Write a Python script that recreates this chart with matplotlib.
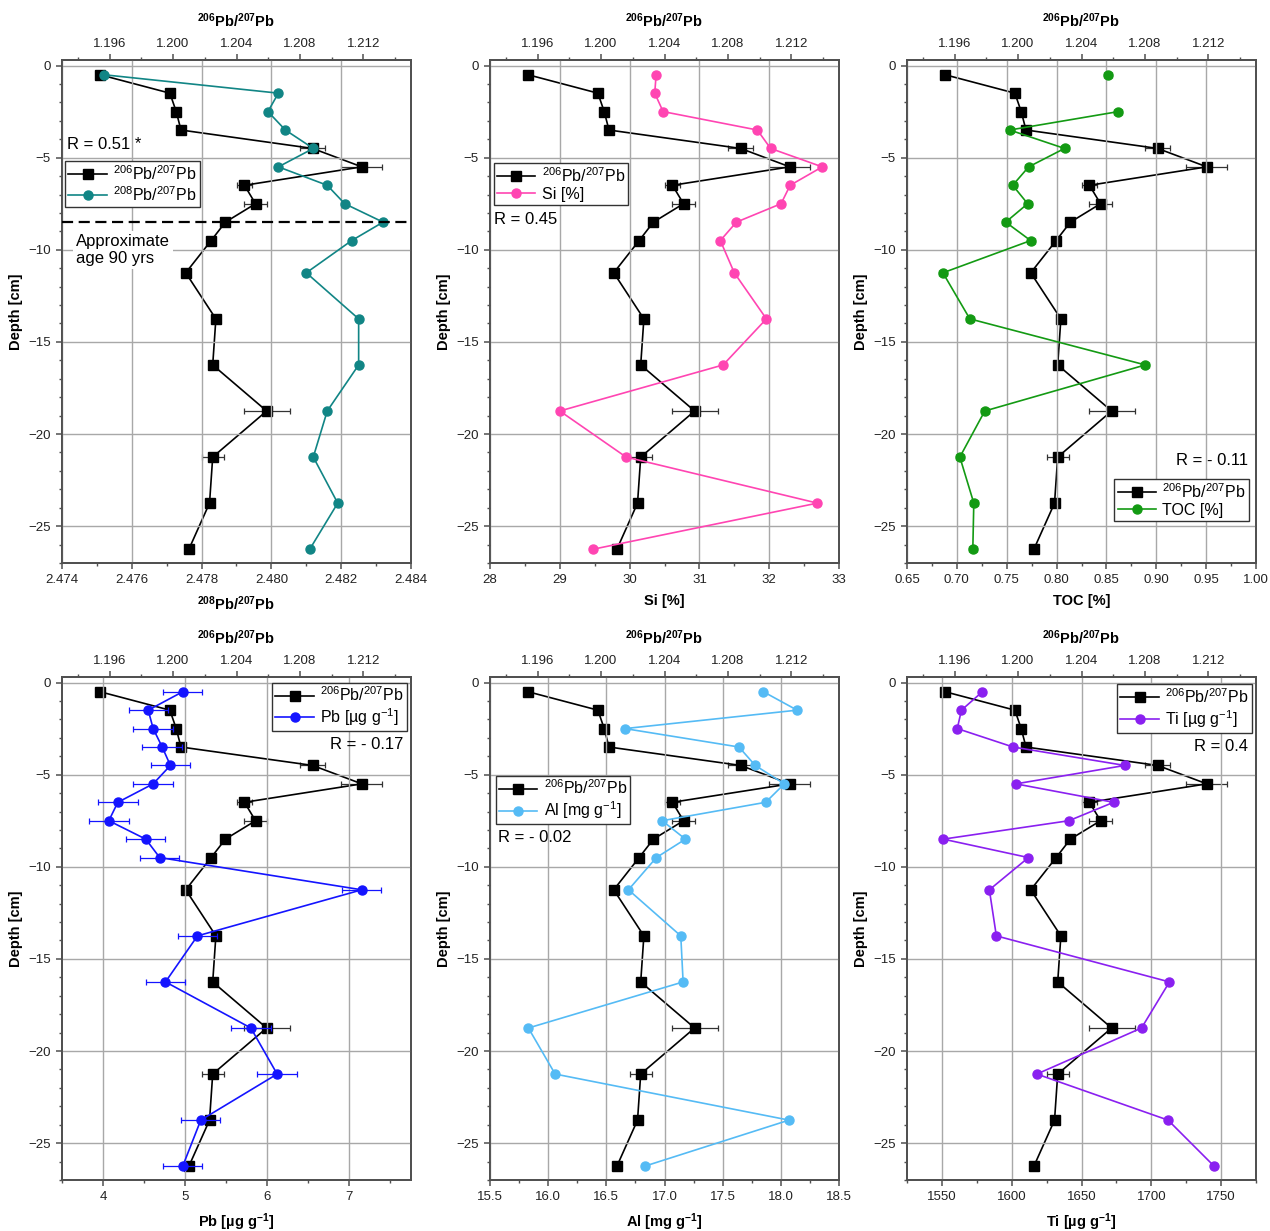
import numpy as np
import matplotlib
matplotlib.use("Agg")
import matplotlib.pyplot as plt
from matplotlib.lines import Line2D
from matplotlib.ticker import MultipleLocator, FormatStrFormatter

plt.rcParams['font.family'] = ['Liberation Sans', 'DejaVu Sans']
plt.rcParams['mathtext.fontset'] = 'custom'
plt.rcParams['mathtext.rm'] = 'Liberation Sans'
plt.rcParams['mathtext.bf'] = 'Liberation Sans:bold'
plt.rcParams['mathtext.default'] = 'regular'

# sample depths (cm, negative downwards)
depth = [-0.5, -1.5, -2.5, -3.5, -4.5, -5.5, -6.5, -7.5, -8.5, -9.5,
         -11.25, -13.75, -16.25, -18.75, -21.25, -23.75, -26.25]

# lead isotope ratios
pb206_207 = [1.1954, 1.1998, 1.2002, 1.2005, 1.2088, 1.2119, 1.2045, 1.2052, 1.2033,
             1.2024, 1.2008, 1.2027, 1.2025, 1.2059, 1.2025, 1.2023, 1.2010]
pb206_207_err = [0.0002, 0.0002, 0.0002, 0.0002, 0.0008, 0.0013, 0.0005, 0.0007, 0.0002,
                 0.0002, 0.0002, 0.0002, 0.0002, 0.00145, 0.0007, 0.0002, 0.0002]
pb208_207 = [2.4752, 2.4802, 2.4799, 2.4804, 2.4812, 2.4802, 2.4816, 2.4821, 2.4832,
             2.4823, 2.4810, 2.4825, 2.4825, 2.4816, 2.4812, 2.4819, 2.4811]

# element concentrations
si = [30.38, 30.36, 30.48, 31.83, 32.02, 32.76, 32.30, 32.17, 31.53, 31.30,
      31.50, 31.96, 31.34, 29.00, 29.95, 32.69, 29.48]
toc = [0.852, np.nan, 0.862, 0.753, 0.808, 0.772, 0.756, 0.771, 0.749, 0.774,
       0.686, 0.713, 0.889, 0.728, 0.703, 0.717, 0.716]
toc_err = [0.004] * 17
pb = [4.97, 4.55, 4.61, 4.72, 4.82, 4.61, 4.18, 4.07, 4.52, 4.69,
      7.15, 5.15, 4.76, 5.80, 6.12, 5.19, 4.97]
pb_err = [0.24] * 17
al = [17.85, 18.14, 16.66, 17.64, 17.78, 18.03, 17.87, 16.98, 17.18, 16.93,
      16.69, 17.14, 17.16, 15.83, 16.06, 18.07, 16.83]
ti = [1579, 1564, 1561, 1601, 1681, 1603, 1673, 1641, 1551, 1612,
      1584, 1589, 1713, 1693, 1618, 1712, 1745]

ratio_label = r'$^{206}$Pb/$^{207}$Pb'
ratio_label_bold = r'$\mathbf{^{206}}$Pb/$\mathbf{^{207}}$Pb'

fig = plt.figure(figsize=(12.7, 12.31), dpi=100)

# panel frames in pixels
W, H = 1270, 1231
col_x = [62, 490, 907]
row_y = [(60, 563), (677, 1180)]
pw = 349

spine_col = '#505050'
grid_col = '#a8a8a8'
MS = 6.5


def style_axis(a):
    for s in a.spines.values():
        s.set_color(spine_col)
        s.set_linewidth(1.3)
    a.tick_params(which='both', direction='out', color=spine_col, labelsize=9.5,
                  labelcolor='#222222')
    a.tick_params(which='major', length=4.5, width=1.1)
    a.tick_params(which='minor', length=2.5, width=1.0)


def panel(col, row, x, xerr, color, label, xlabel, xlim, major, minor, fmt,
          r_text, r_xy, r_ha, leg_loc, leg_anchor):
    top, bot = row_y[row]
    rect = [col_x[col] / W, 1 - bot / H, pw / W, (bot - top) / H]
    ax = fig.add_axes(rect)
    ax2 = ax.twiny()
    ax.set_zorder(ax2.get_zorder() + 1)
    ax.patch.set_visible(False)

    # 206Pb/207Pb on the top axis
    ax2.errorbar(pb206_207, depth, xerr=pb206_207_err, color='black', lw=1.2,
                 marker='s', ms=MS, elinewidth=0.9, ecolor='#333333', capsize=2.5,
                 capthick=0.9)
    ax2.set_xlim(1.193, 1.215)
    ax2.xaxis.set_major_locator(MultipleLocator(0.004))
    ax2.xaxis.set_minor_locator(MultipleLocator(0.002))
    ax2.xaxis.set_major_formatter(FormatStrFormatter('%.3f'))
    ax2.set_xlabel(ratio_label_bold, fontsize=10.5, fontweight='bold', labelpad=8)

    # second series on the bottom axis
    ax.errorbar(x, depth, xerr=xerr, color=color, lw=1.2, marker='o', ms=MS,
                elinewidth=0.9, capsize=2.5, capthick=0.9)
    ax.set_xlim(*xlim)
    ax.set_ylim(-27, 0.3)
    ax.xaxis.set_major_locator(MultipleLocator(major))
    ax.xaxis.set_minor_locator(MultipleLocator(minor))
    ax.xaxis.set_major_formatter(FormatStrFormatter(fmt))
    ax.yaxis.set_major_locator(MultipleLocator(5))
    ax.yaxis.set_minor_locator(MultipleLocator(1))
    ax.set_xlabel(xlabel, fontsize=10.5, fontweight='bold', labelpad=6)
    ax.set_ylabel('Depth [cm]', fontsize=10.5, fontweight='bold', labelpad=4)
    ax.grid(True, which='major', color=grid_col, lw=1.0)
    ax.tick_params(right=False)
    style_axis(ax)
    style_axis(ax2)
    ax2.tick_params(axis='x', pad=2.5)

    handles = [Line2D([], [], color='black', lw=1.2, marker='s', ms=MS),
               Line2D([], [], color=color, lw=1.2, marker='o', ms=MS)]
    leg = ax.legend(handles, [ratio_label, label], loc=leg_loc,
                    bbox_to_anchor=leg_anchor, borderaxespad=0, fontsize=11.5,
                    frameon=True, fancybox=False, framealpha=1, edgecolor='#333333',
                    handlelength=2.4, handletextpad=0.4, borderpad=0.2,
                    labelspacing=0.12)
    leg.get_frame().set_linewidth(1.0)
    ax.text(r_xy[0], r_xy[1], r_text, transform=ax.transAxes, fontsize=12,
            ha=r_ha, va='center')
    return ax


ax1 = panel(0, 0, pb208_207, None, '#118585', r'$^{208}$Pb/$^{207}$Pb',
            r'$\mathbf{^{208}}$Pb/$\mathbf{^{207}}$Pb', (2.474, 2.484), 0.002, 0.001,
            '%.3f', 'R = 0.51 *', (0.014, 0.833), 'left', 'upper left', (0.009, 0.799))
ax1.axhline(-8.5, color='black', lw=1.6, ls=(0, (5, 2.5)), zorder=5)
ax1.text(0.04, 0.622, 'Approximate\nage 90 yrs', transform=ax1.transAxes, fontsize=12,
         ha='left', va='center', linespacing=1.15,
         bbox=dict(facecolor='white', edgecolor='none', pad=2))

panel(1, 0, si, None, '#ff45b2', 'Si [%]', 'Si [%]', (28, 33), 1, 0.5, '%d',
      'R = 0.45', (0.011, 0.682), 'left', 'upper left', (0.011, 0.795))

panel(2, 0, toc, toc_err, '#139a13', 'TOC [%]', 'TOC [%]', (0.65, 1.00), 0.05, 0.025,
      '%.2f', 'R = - 0.11', (0.977, 0.203), 'right', 'lower right', (0.980, 0.084))

panel(0, 1, pb, pb_err, '#1414ff', r'Pb [µg g$^{-1}$]', r'Pb [µg g$\mathbf{^{-1}}$]',
      (3.5, 7.75), 1, 0.5, '%d', 'R = - 0.17', (0.977, 0.865), 'right',
      'upper right', (0.988, 0.989))

panel(1, 1, al, None, '#55bbf5', r'Al [mg g$^{-1}$]', r'Al [mg g$\mathbf{^{-1}}$]',
      (15.5, 18.5), 0.5, 0.25, '%.1f', 'R = - 0.02', (0.022, 0.68), 'left',
      'upper left', (0.016, 0.804))

panel(2, 1, ti, None, '#8a20f0', r'Ti [µg g$^{-1}$]', r'Ti [µg g$\mathbf{^{-1}}$]',
      (1525, 1775), 50, 25, '%d', 'R = 0.4', (0.976, 0.861), 'right',
      'upper right', (0.988, 0.986))

fig.savefig('out.png', dpi=100)
